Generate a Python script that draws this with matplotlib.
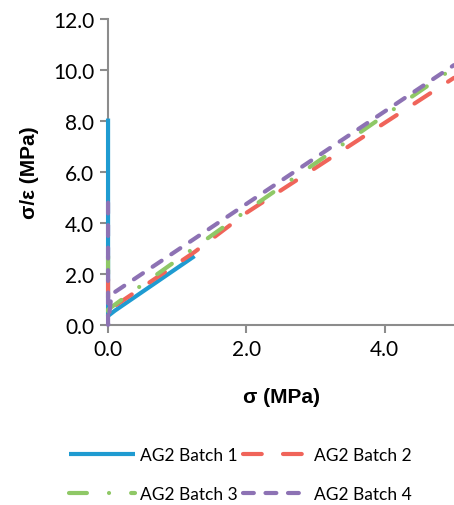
import matplotlib
matplotlib.use("Agg")
import matplotlib.pyplot as plt
from matplotlib.ticker import FormatStrFormatter

plt.rcParams['font.family'] = ['Lato', 'DejaVu Sans']

# Données : sigma (MPa) et sigma/epsilon (MPa)
batch1_x = [0.0, 0.0, 0.1, 1.25]
batch1_y = [8.1, 0.35, 0.56, 2.7]

batch2_x = [0.0, 0.0, 0.1, 1.25, 2.0, 5.0]
batch2_y = [1.8, 0.6, 0.75, 2.86, 4.4, 9.7]

batch3_x = [0.0, 0.0, 0.0, 0.41, 2.0, 5.0]
batch3_y = [2.7, 0.4, 0.6, 1.41, 4.48, 10.1]

batch4_x = [0.0, 0.0, 0.05, 2.0, 5.0]
batch4_y = [4.8, 0.0, 1.2, 4.75, 10.2]

labels = ['AG2 Batch 1', 'AG2 Batch 2', 'AG2 Batch 3', 'AG2 Batch 4']

fig = plt.figure(figsize=(4.54, 5.06), dpi=100)
ax = fig.add_axes([0.238, 0.356, 0.762, 0.604])

lw = 3
h1, = ax.plot(batch1_x, batch1_y, color='#1f9bd1', lw=lw, solid_capstyle='butt',
              clip_on=False, zorder=3)
h2, = ax.plot(batch2_x, batch2_y, color='#f0645a', lw=lw, dash_capstyle='round',
              linestyle=(0, (4.5, 5.1)), clip_on=False, zorder=3)
h3, = ax.plot(batch3_x, batch3_y, color='#8fc866', lw=lw, dash_capstyle='round',
              linestyle=(0, (4.3, 5.3, 0.01, 5.3)), clip_on=False, zorder=3)
h4, = ax.plot(batch4_x, batch4_y, color='#8d72b4', lw=lw, dash_capstyle='round',
              linestyle=(0, (2.6, 2.8)), clip_on=False, zorder=3)

ax.set_xlim(0, 5)
ax.set_ylim(0, 12)
ax.set_xticks([0, 2, 4])
ax.set_yticks([0, 2, 4, 6, 8, 10, 12])
ax.xaxis.set_major_formatter(FormatStrFormatter('%.1f'))
ax.yaxis.set_major_formatter(FormatStrFormatter('%.1f'))

for s in ['top', 'right']:
    ax.spines[s].set_visible(False)
for s in ['left', 'bottom']:
    ax.spines[s].set_color('#8c8c8c')
    ax.spines[s].set_linewidth(1.5)
    ax.spines[s].set_zorder(1)
ax.tick_params(colors='#8c8c8c', width=1.5, length=6, labelsize=15,
               labelcolor='black', pad=4)

ax.set_xlabel('σ (MPa)', fontsize=15, fontweight='bold', labelpad=20,
              family=['Liberation Sans', 'DejaVu Sans'])
ax.set_ylabel('σ/ε (MPa)', fontsize=15, fontweight='bold', labelpad=10,
              family=['Liberation Sans', 'DejaVu Sans'])

# ordre : lignes 1-2 en haut, 3-4 en bas
fig.legend([h1, h3, h2, h4], [labels[0], labels[2], labels[1], labels[3]],
           loc='lower center', bbox_to_anchor=(0.53, -0.025), ncol=2, frameon=False,
           fontsize=12.5, handlelength=3.8, columnspacing=0.3, handletextpad=0.3,
           labelspacing=1.3)

plt.savefig('out.png', dpi=100)
